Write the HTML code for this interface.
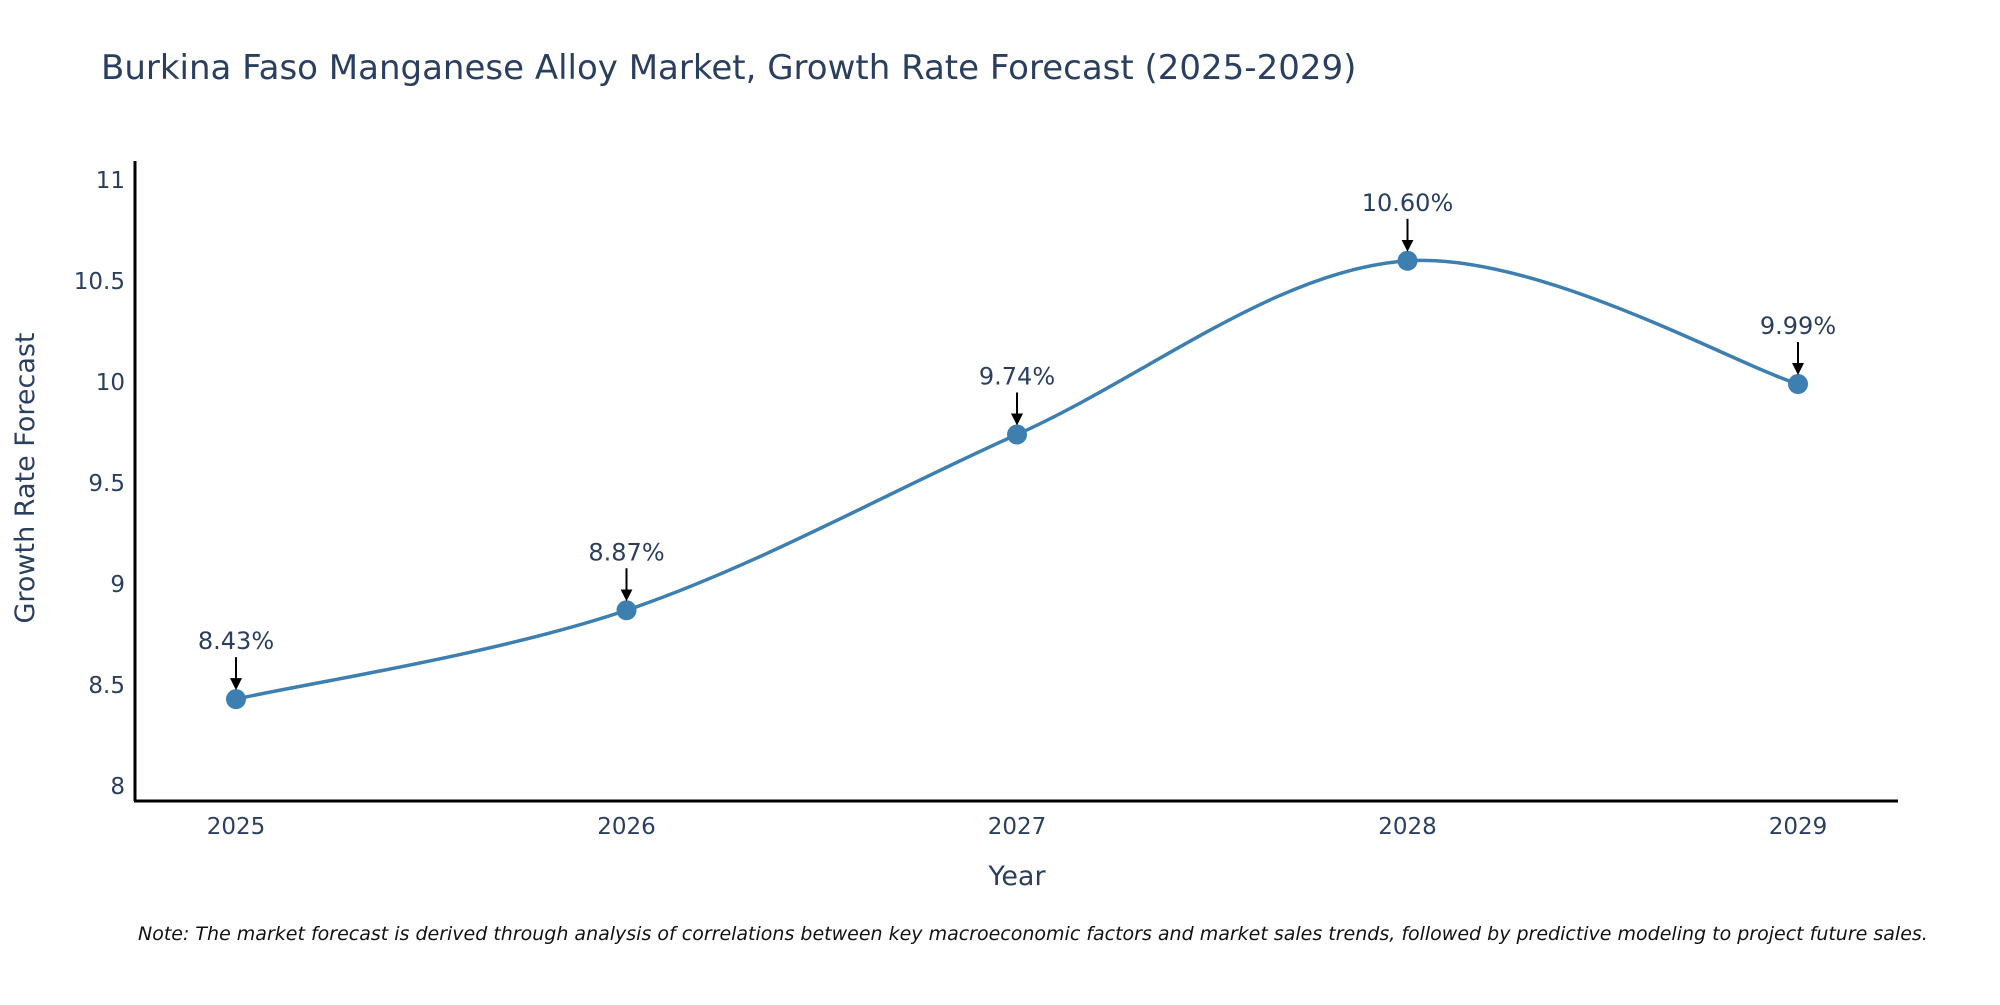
<!DOCTYPE html>
<html><head><meta charset="utf-8"><style>
body{margin:0;background:#fff;}
svg text{font-family:"DejaVu Sans","Liberation Sans",sans-serif;fill:#2a3f5f;}
</style></head><body>
<svg width="2000" height="1000" xmlns="http://www.w3.org/2000/svg">
<text x="101" y="79" font-size="34">Burkina Faso Manganese Alloy Market, Growth Rate Forecast (2025-2029)</text>
<g id="plot"></g>
<text x="1017" y="885" font-size="27" text-anchor="middle">Year</text>
<text transform="translate(34,478) rotate(-90)" font-size="27" text-anchor="middle">Growth Rate Forecast</text>
<text x="138" y="940" font-size="19" font-style="italic" style="fill:#111">Note: The market forecast is derived through analysis of correlations between key macroeconomic factors and market sales trends, followed by predictive modeling to project future sales.</text>
</svg>
<script>
const years=["2025","2026","2027","2028","2029"];
const values=[8.43,8.87,9.74,10.60,9.99];
const labels=["8.43%","8.87%","9.74%","10.60%","9.99%"];
const yTicks=[8,8.5,9,9.5,10,10.5,11];
const NS="http://www.w3.org/2000/svg";
const g=document.getElementById('plot');
function X(i){return 236+i*390.5;}
function Y(v){return 786-(v-8)*202;}
function mk(t,a,p){const e=document.createElementNS(NS,t);for(const k in a)e.setAttribute(k,a[k]);(p||g).appendChild(e);return e;}
const defs=mk('defs',{});
const m=mk('marker',{id:'ah',markerWidth:'6',markerHeight:'6',refX:'5',refY:'3',orient:'auto',markerUnits:'strokeWidth'},defs);
mk('path',{d:'M0,0 L6,3 L0,6 Z',fill:'#000'},m);
const ya=mk('line',{x1:135,y1:161,x2:135,y2:801,stroke:'#000','stroke-width':3});

const xa=mk('line',{x1:134,y1:801,x2:1898,y2:801,stroke:'#000','stroke-width':3});

yTicks.forEach(v=>{const t=mk('text',{x:125,y:Y(v)+8,'font-size':23,'text-anchor':'end'});t.textContent=String(v);
});
years.forEach((y,i)=>{const t=mk('text',{x:X(i),y:834,'font-size':23,'text-anchor':'middle'});t.textContent=y;
});
const pts=values.map((v,i)=>[X(i),Y(v)]);
let d=`M${pts[0][0]},${pts[0][1]}`;
for(let i=0;i<pts.length-1;i++){const p0=pts[Math.max(0,i-1)],p1=pts[i],p2=pts[i+1],p3=pts[Math.min(pts.length-1,i+2)];
const k=1/6;d+=` C${p1[0]+(p2[0]-p0[0])*k},${p1[1]+(p2[1]-p0[1])*k} ${p2[0]-(p3[0]-p1[0])*k},${p2[1]-(p3[1]-p1[1])*k} ${p2[0]},${p2[1]}`;}
const ln=mk('path',{d:d,fill:'none',stroke:'#3d7fb0','stroke-width':3.5});

pts.forEach((p,i)=>{const c=mk('circle',{cx:p[0],cy:p[1],r:10,fill:'#3d7fb0'});

const a=mk('line',{x1:p[0],y1:p[1]-42,x2:p[0],y2:p[1]-11,stroke:'#000','stroke-width':2,'marker-end':'url(#ah)'});

const t=mk('text',{x:p[0],y:p[1]-50,'font-size':24,'text-anchor':'middle'});t.textContent=labels[i];
});
</script>
</body></html>
